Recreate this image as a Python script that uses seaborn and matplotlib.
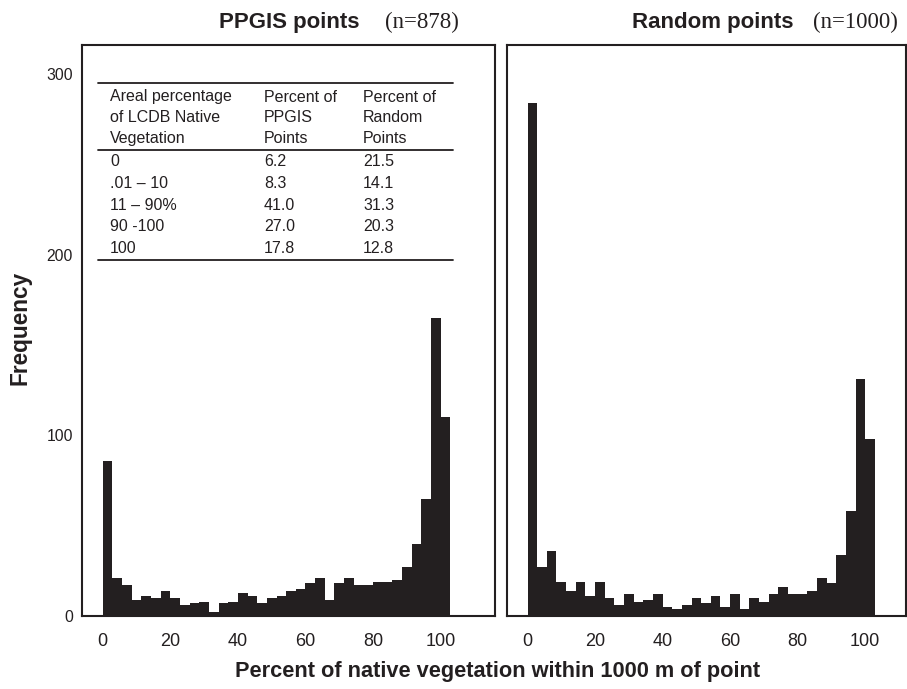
import pandas as pd
import matplotlib
matplotlib.use("Agg")
import matplotlib.pyplot as plt
import seaborn as sns

# Histogram counts (36 bins of width 100/35, starting at 0)
ppgis_counts = [86, 21, 17, 9, 11, 10, 14, 10, 6, 7, 8, 2, 7, 8, 13, 11, 7, 10,
                11, 14, 15, 18, 21, 9, 18, 21, 17, 17, 19, 19, 20, 27, 40, 65, 165, 110]
random_counts = [284, 27, 36, 19, 14, 19, 11, 19, 10, 6, 12, 8, 9, 12, 5, 4, 6, 10,
                 7, 11, 5, 12, 4, 10, 8, 12, 16, 12, 12, 14, 21, 18, 34, 58, 131, 98]

panel_titles = ["PPGIS points", "Random points"]
panel_n = ["(n=878)", "(n=1000)"]

# Inset table
table_header = [["Areal percentage", "of LCDB Native", "Vegetation"],
                ["Percent of", "PPGIS", "Points"],
                ["Percent of", "Random", "Points"]]
veg_classes = ["0", ".01 \u2013 10", "11 \u2013 90%", "90 -100", "100"]
pct_ppgis = ["6.2", "8.3", "41.0", "27.0", "17.8"]
pct_random = ["21.5", "14.1", "31.3", "20.3", "12.8"]

bin_edges = [i * 100 / 35 for i in range(37)]
bin_centers = [(a + b) / 2 for a, b in zip(bin_edges[:-1], bin_edges[1:])]

bar_color = "#231f20"
W, H = 907, 689

sns.set_style("white")
plt.rcParams['font.family'] = ['Liberation Sans', 'DejaVu Sans']


def box(x0, y0, x1, y1):
    # pixel box -> figure fraction
    return [x0 / W, 1 - y1 / H, (x1 - x0) / W, (y1 - y0) / H]


def fx(x):
    return x / W


def fy(y):
    return 1 - y / H


fig = plt.figure(figsize=(W / 100, H / 100), dpi=100)
ax1 = fig.add_axes(box(82, 45, 494.5, 616))
ax2 = fig.add_axes(box(506.6, 45, 906, 616))

for ax, counts, xlim in [(ax1, ppgis_counts, (-6.1, 115.9)),
                         (ax2, random_counts, (-6.2, 112.1))]:
    df = pd.DataFrame({"pct": bin_centers, "n": counts})
    sns.histplot(data=df, x="pct", weights="n", bins=bin_edges, ax=ax,
                 color=bar_color, alpha=1, linewidth=0)
    ax.set_xlim(*xlim)
    ax.set_ylim(0, 316)
    ax.set_xticks([0, 20, 40, 60, 80, 100])
    ax.set_xlabel("")
    ax.set_ylabel("")
    for s in ax.spines.values():
        s.set_color(bar_color)
        s.set_linewidth(1.5)
    ax.tick_params(axis="x", direction="out", length=7, width=1.7,
                   color=bar_color, pad=5, labelsize=13, labelcolor=bar_color)

ax1.set_yticks([0, 100, 200, 300])
ax1.tick_params(axis="y", direction="out", length=6, width=1.7,
                color=bar_color, pad=0.5, labelsize=11.3, labelcolor=bar_color)
ax2.set_yticks([])

# panel titles
fig.text(fx(288.8), fy(22.5), panel_titles[0], ha="center", va="center",
         fontsize=16, fontweight="bold", color=bar_color)
fig.text(fx(385), fy(22), panel_n[0], ha="left", va="center",
         fontsize=16.5, family="Liberation Serif", color=bar_color)
fig.text(fx(713), fy(22.5), panel_titles[1], ha="center", va="center",
         fontsize=16, fontweight="bold", color=bar_color)
fig.text(fx(813), fy(22), panel_n[1], ha="left", va="center",
         fontsize=16.5, family="Liberation Serif", color=bar_color)

fig.text(fx(20), fy(328), "Frequency", rotation=90, ha="center", va="center",
         fontsize=16.3, fontweight="bold", color=bar_color)
fig.text(fx(497.5), fy(672), "Percent of native vegetation within 1000 m of point",
         ha="center", va="center", fontsize=15.7, fontweight="bold", color=bar_color)

# inset table
col_x = [110, 264, 363]
tsize = 11.5
for rule_y in [83, 149.5, 259.5]:
    ax1.plot([fx(98), fx(453)], [fy(rule_y), fy(rule_y)], transform=fig.transFigure,
             color=bar_color, lw=1.3, clip_on=False)
for cx, lines in zip(col_x, table_header):
    for i, t in enumerate(lines):
        fig.text(fx(cx), fy(97 + 20.7 * i), t, ha="left", va="center",
                 fontsize=tsize, color=bar_color)
for i, row in enumerate(zip(veg_classes, pct_ppgis, pct_random)):
    for cx, t in zip(col_x, row):
        fig.text(fx(cx), fy(162 + 21.6 * i), t, ha="left", va="center",
                 fontsize=tsize, color=bar_color)

fig.savefig("out.png", dpi=100)
